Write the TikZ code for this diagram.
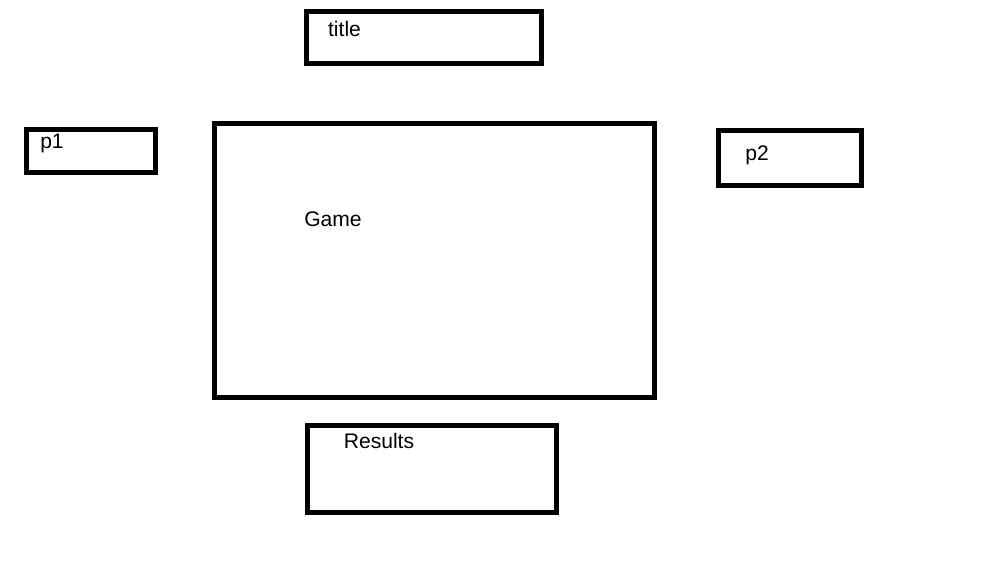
\documentclass[tikz,border=0pt]{standalone}
\usepackage{fontspec}
\setmainfont{Liberation Sans}
\begin{document}
\begin{tikzpicture}
  \tikzstyle{panel}=[draw, line width=1.2mm, rectangle, inner sep=0pt]
  \tikzstyle{caption}=[font=\fontsize{15}{17}\selectfont, inner sep=0pt]

  \useasboundingbox (0, 0) rectangle (24.7, 14.7);

  \node[panel, minimum width=5.88cm, minimum height=1.305cm] (title) at (10.6, 13.7625) {};
  \node[panel, minimum width=3.23cm, minimum height=1.08cm] (p1) at (2.275, 10.925) {};
  \node[panel, minimum width=11.005cm, minimum height=6.855cm] (game) at (10.8625, 8.1875) {};
  \node[panel, minimum width=3.58cm, minimum height=1.38cm] (p2) at (19.75, 10.75) {};
  \node[panel, minimum width=6.23cm, minimum height=2.18cm] (results) at (10.8, 2.975) {};

  \node[caption] (titletext) at (8.6125, 13.975) {title};
  \node[caption] (p1text) at (1.3, 11.125) {p1};
  \node[caption] (gametext) at (8.325, 9.225) {Game};
  \node[caption] (p2text) at (18.93, 10.825) {p2};
  \node[caption] (resultstext) at (9.475, 3.675) {Results};
\end{tikzpicture}
\end{document}
